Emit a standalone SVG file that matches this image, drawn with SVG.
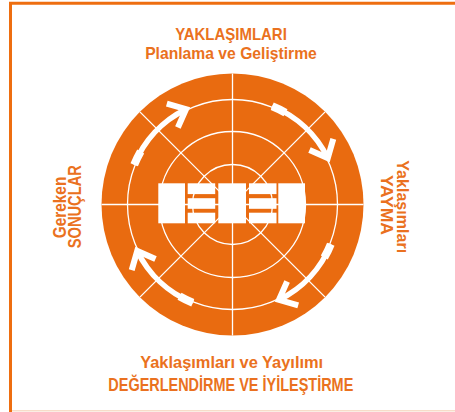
<svg xmlns="http://www.w3.org/2000/svg" width="455" height="412" viewBox="0 0 455 412">
<style>
.t{font-family:"Liberation Sans",Arial,sans-serif;font-weight:bold;fill:#EA7120;}
.ln{stroke:#fff;stroke-width:1.3;fill:none;}
.bd{stroke:#fff;fill:none;stroke-width:5.5;}
.tl{stroke:#fff;fill:none;stroke-width:8;}
.hd{stroke:#fff;fill:none;stroke-width:6;stroke-linejoin:miter;stroke-miterlimit:10;}
.w{fill:#fff;}
</style>
<rect width="455" height="412" fill="#fff"/>
<g id="frame">
<line x1="10.5" y1="2" x2="10.5" y2="412" stroke="#EE6E10" stroke-width="3"/>
<line x1="9" y1="3.3" x2="455" y2="3.3" stroke="#EE6E10" stroke-width="3"/>
<line x1="12" y1="410.8" x2="455" y2="410.8" stroke="#F7DDC9" stroke-width="1.5"/>
</g>
<g id="wheel">
<circle cx="232.5" cy="204.5" r="131" fill="#E96B10"/>
<circle class="ln" cx="232.5" cy="204.5" r="105"/>
<circle class="ln" cx="232.5" cy="204.5" r="73"/>
<circle class="ln" cx="232.5" cy="204.5" r="40"/>
<line class="ln" x1="232.5" y1="73.5" x2="232.5" y2="335.5"/>
<line class="ln" x1="101.5" y1="204.5" x2="363.5" y2="204.5"/>
<line class="ln" x1="139.9" y1="111.9" x2="325.1" y2="297.1"/>
<line class="ln" x1="325.1" y1="111.9" x2="139.9" y2="297.1"/>
</g>
<g id="center-blocks">
<rect class="w" x="158.3" y="183.3" width="26.7" height="40"/>
<rect class="w" x="187.7" y="183.3" width="27.5" height="10.8"/>
<rect class="w" x="187.7" y="198.2" width="27.5" height="10.6"/>
<rect class="w" x="187.7" y="212.7" width="27.5" height="10.6"/>
<rect class="w" x="218.3" y="183.3" width="27.7" height="40"/>
<rect class="w" x="249" y="183.3" width="27.5" height="10.8"/>
<rect class="w" x="249" y="198.2" width="27.5" height="10.6"/>
<rect class="w" x="249" y="212.7" width="27.5" height="10.6"/>
<rect class="w" x="278.3" y="183.3" width="26.7" height="40"/>
</g>
<defs>
<g id="arrow">
<path class="tl" d="M134.22,164.79 A106,106 0 0 1 140.70,151.5"/>
<path class="bd" d="M134.22,164.79 A106,106 0 0 1 186.03,109.23"/>
<path class="hd" d="M166.8,103.7 L186.03,109.23 L177.9,127.5"/>
</g>
</defs>
<g id="connectors">
<use href="#arrow"/>
<use href="#arrow" transform="rotate(90 232.5 204.5)"/>
<use href="#arrow" transform="rotate(180 232.5 204.5)"/>
<use href="#arrow" transform="rotate(270 232.5 204.5)"/>
</g>
<g id="label-top">
<text class="t" x="231" y="40" font-size="17" text-anchor="middle" textLength="111.7" lengthAdjust="spacingAndGlyphs">YAKLAŞIMLARI</text>
<text class="t" x="231" y="58.5" font-size="17" text-anchor="middle" textLength="171.7" lengthAdjust="spacingAndGlyphs">Planlama ve Geliştirme</text>
</g>
<g id="label-right">
<text class="t" transform="translate(397.3,206.7) rotate(90)" font-size="17" text-anchor="middle" textLength="93" lengthAdjust="spacingAndGlyphs">Yaklaşımları</text>
<text class="t" transform="translate(380.5,205) rotate(90)" font-size="17" text-anchor="middle" textLength="60" lengthAdjust="spacingAndGlyphs">YAYMA</text>
</g>
<g id="label-left">
<text class="t" transform="translate(66,207.5) rotate(-90)" font-size="18.5" text-anchor="middle" textLength="61.6" lengthAdjust="spacingAndGlyphs">Gereken</text>
<text class="t" transform="translate(81,206.7) rotate(-90)" font-size="18.5" text-anchor="middle" textLength="83.3" lengthAdjust="spacingAndGlyphs">SONUÇLAR</text>
</g>
<g id="label-bottom">
<text class="t" x="231.7" y="367.5" font-size="17" text-anchor="middle" textLength="183" lengthAdjust="spacingAndGlyphs">Yaklaşımları ve Yayılımı</text>
<text class="t" x="230.8" y="390.5" font-size="17.5" text-anchor="middle" textLength="245" lengthAdjust="spacingAndGlyphs">DEĞERLENDİRME VE İYİLEŞTİRME</text>
</g>
</svg>
